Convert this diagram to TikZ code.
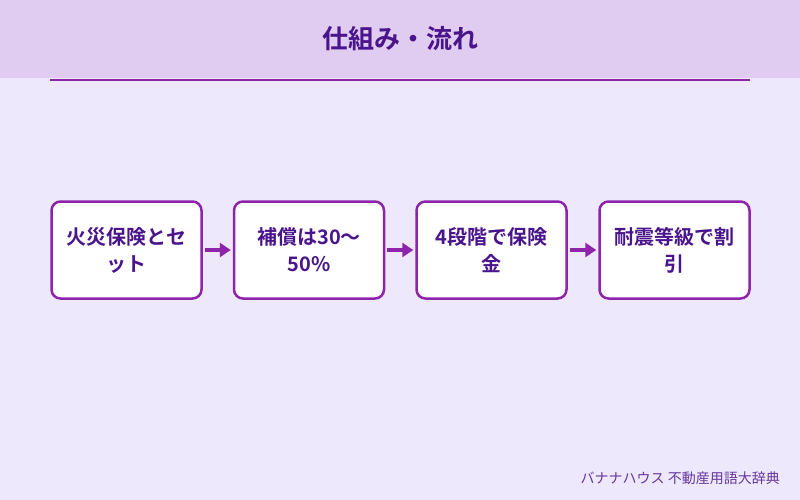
\documentclass[tikz,border=0pt]{standalone}
\usepackage{fontspec}
\newfontfamily\cjk{Noto Sans CJK JP}
\newfontfamily\cjkb{Noto Sans CJK JP Bold}
\usetikzlibrary{arrows.meta}
\definecolor{bgc}{RGB}{238,232,252}
\definecolor{hdr}{RGB}{224,204,240}
\definecolor{pur}{RGB}{142,36,170}
\definecolor{dpur}{RGB}{74,20,140}
\tikzset{
  stepbox/.style={draw=pur, line width=2.5pt, fill=white, rounded corners=9pt,
    minimum width=150pt, minimum height=97pt, align=center, text=dpur,
    font=\cjkb\fontsize{20}{27}\selectfont, inner sep=0pt},
  flow/.style={draw=pur, line width=3.5pt, -{Triangle[length=11pt,width=14pt]}, shorten >=2pt, shorten <=2pt}
}
\begin{document}
\begin{tikzpicture}[x=1pt,y=-1pt]
\fill[bgc] (0,0) rectangle (800,500);
\useasboundingbox (0,0) rectangle (800,500);
\fill[hdr] (0,0) rectangle (800,78);
\node[font=\cjkb\fontsize{26}{30}\selectfont, text=dpur] (title) at (400,39) {仕組み・流れ};
\coordinate (la) at (50,80);
\coordinate (lb) at (750,80);
\draw[pur, line width=2pt] (la) -- (lb);
\node[stepbox] (s1) at (126.5,250) {火災保険とセ\\ット};
\node[stepbox] (s2) at (309,250) {補償は30〜\\50\%};
\node[stepbox] (s3) at (491.5,250) {4段階で保険\\金};
\node[stepbox] (s4) at (674.5,250) {耐震等級で割\\引};
\draw[flow] (s1) -- (s2);
\draw[flow] (s2) -- (s3);
\draw[flow] (s3) -- (s4);
\node[anchor=east, font=\cjk\fontsize{14}{16}\selectfont, text=dpur!85, inner sep=0pt] (foot) at (780,478) {バナナハウス 不動産用語大辞典};
\end{tikzpicture}
\end{document}
